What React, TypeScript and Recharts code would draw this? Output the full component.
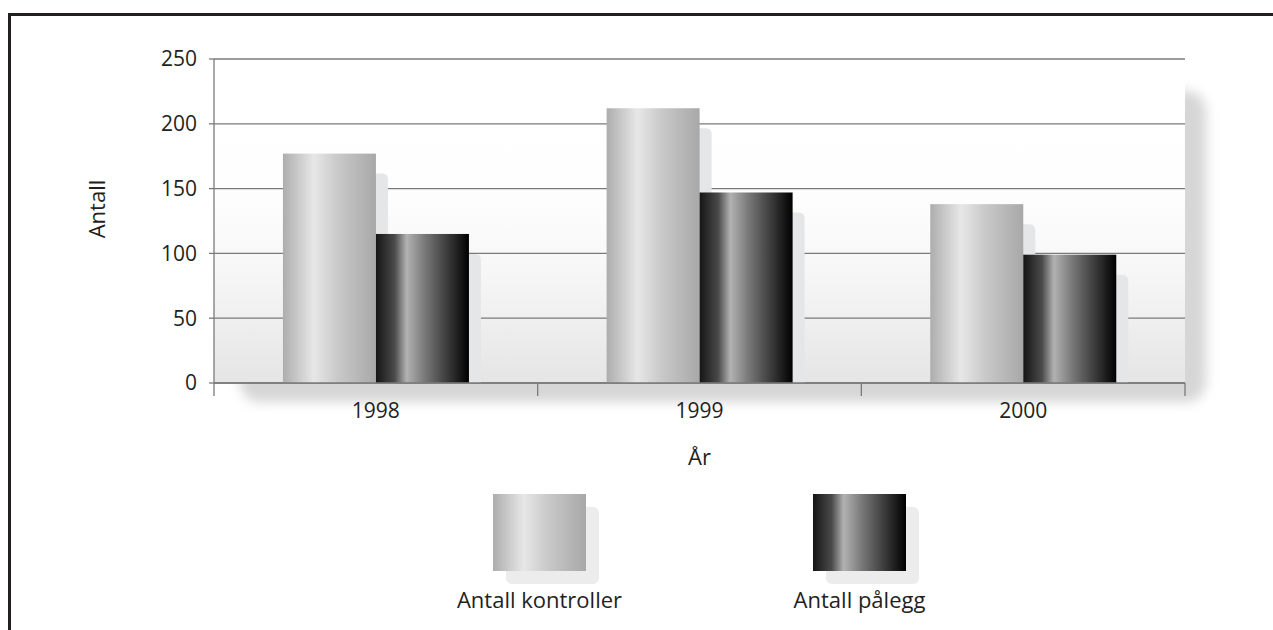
import React from 'react';
import { BarChart, Bar, XAxis, YAxis, CartesianGrid } from 'recharts';

const categories = ['1998', '1999', '2000'];
const kontroller = [177, 212, 138];
const palegg = [115, 147, 99];
const yTicks = [0, 50, 100, 150, 200, 250];
const seriesNames = ['Antall kontroller', 'Antall pålegg'];
const xTitle = 'År';
const yTitle = 'Antall';

const data = categories.map((c, i) => ({ year: c, kontroller: kontroller[i], palegg: palegg[i] }));

const FONT = "'Open Sans', 'Noto Sans', sans-serif";
const TEXT = '#231f20';
const LINE = '#7a7a7a';
const TICK_FS = 21;
const LABEL_FS = 22;

const lightStops: [number, string][] = [
  [0, '#adadad'], [0.33, '#e7e7e7'], [0.6, '#c8c8c8'], [1, '#a8a8a8'],
];
const darkStops: [number, string][] = [
  [0, '#151515'], [0.2, '#4a4a4a'], [0.33, '#b2b2b2'], [0.52, '#7a7a7a'], [0.78, '#383838'], [1, '#000000'],
];
const cssGrad = (stops: [number, string][]) =>
  `linear-gradient(to right, ${stops.map(([o, c]) => `${c} ${o * 100}%`).join(', ')})`;

const ShadowBar = (props: any) => {
  const { x, y, width, height, fill } = props;
  const dx = 12, dy = 20, r = 6;
  const sx = x + dx, sy = y + dy, sh = height - dy;
  return (
    <g>
      {sh > 0 && (
        <path
          d={`M${sx},${sy + sh} L${sx},${sy} L${sx + width - r},${sy} Q${sx + width},${sy} ${sx + width},${sy + r} L${sx + width},${sy + sh} Z`}
          fill="#e5e6e8"
        />
      )}
      <rect x={x} y={y} width={width} height={height} fill={fill} />
    </g>
  );
};

const TICK_GAP = 20;
const XTick = (props: any) => {
  const { x, y, payload, index, visibleTicksCount } = props;
  const half = payload && payload.offset ? payload.offset : 0;
  const top = y - TICK_GAP;
  const lines = [x - half];
  if (index === visibleTicksCount - 1) lines.push(x + half);
  return (
    <g>
      {lines.map((lx, i) => (
        <line key={i} x1={lx} x2={lx} y1={top} y2={top + 13} stroke={LINE} strokeWidth={1.3} />
      ))}
      <text x={x} y={y} dy="0.71em" textAnchor="middle" fill={TEXT} fontSize={TICK_FS} fontFamily={FONT}>
        {payload.value}
      </text>
    </g>
  );
};

const LegendItem = ({ name, stops }: { name: string; stops: [number, string][] }) => (
  <div style={{ width: 320, position: 'relative', height: 120 }}>
    <div style={{ position: 'absolute', left: 113.5 + 13, top: 13, width: 93, height: 77, background: '#ececec', borderRadius: 6 }} />
    <div style={{ position: 'absolute', left: 113.5, top: 0, width: 93, height: 77, background: cssGrad(stops) }} />
    <div style={{ position: 'absolute', left: 0, width: 320, top: 92, textAlign: 'center', fontSize: LABEL_FS, lineHeight: '26px', color: TEXT, fontFamily: FONT }}>
      {name}
    </div>
  </div>
);

export default function App() {
  return (
    <div style={{ position: 'absolute', left: 0, top: 0, width: 1273, height: 630, background: '#fff', overflow: 'hidden', fontFamily: FONT }}>
      <div style={{ position: 'absolute', left: 8, top: 13, width: 1265, height: 617, borderTop: `3px solid ${TEXT}`, borderLeft: `3px solid ${TEXT}`, boxSizing: 'border-box' }} />
      <div style={{ position: 'absolute', left: 240, top: 91, width: 966, height: 311, background: '#d6d6d6', borderRadius: 20, filter: 'blur(6px)' }} />
      <div style={{ position: 'absolute', left: 0, top: 0 }}>
        <BarChart
          width={1273}
          height={630}
          data={data}
          margin={{ top: 59, right: 88, left: 0, bottom: 207 }}
          barCategoryGap="21.3%"
          barGap={0}
        >
          <defs>
            <linearGradient id="plotBg" x1="0" y1="0" x2="0" y2="1">
              <stop offset="0" stopColor="#ffffff" />
              <stop offset="0.4" stopColor="#fefefe" />
              <stop offset="0.65" stopColor="#f7f7f7" />
              <stop offset="1" stopColor="#e5e5e5" />
            </linearGradient>
            <linearGradient id="gLight" x1="0" y1="0" x2="1" y2="0">
              {lightStops.map(([o, c]) => <stop key={o} offset={o} stopColor={c} />)}
            </linearGradient>
            <linearGradient id="gDark" x1="0" y1="0" x2="1" y2="0">
              {darkStops.map(([o, c]) => <stop key={o} offset={o} stopColor={c} />)}
            </linearGradient>
          </defs>
          <CartesianGrid vertical={false} stroke={LINE} strokeWidth={1.3} fill="url(#plotBg)" fillOpacity={1} />
          <XAxis
            dataKey="year"
            height={40}
            tickLine={false}
            axisLine={{ stroke: LINE, strokeWidth: 1.5 }}
            tickSize={0}
            tickMargin={TICK_GAP}
            tick={XTick}
            interval={0}
            label={{
              content: (p: any) => {
                const vb = p.viewBox;
                return (
                  <text x={vb.x + vb.width / 2} y={vb.y + 82} textAnchor="middle" fill={TEXT} fontSize={LABEL_FS} fontFamily={FONT}>
                    {xTitle}
                  </text>
                );
              },
            }}
          />
          <YAxis
            width={214}
            domain={[0, 250]}
            ticks={yTicks}
            tickSize={5}
            tickMargin={12}
            axisLine={{ stroke: LINE, strokeWidth: 1.3 }}
            tickLine={{ stroke: LINE, strokeWidth: 1.3 }}
            tick={{ fill: TEXT, fontSize: TICK_FS, fontFamily: FONT }}
            label={{
              content: (p: any) => {
                const vb = p.viewBox;
                const cx = vb.x + 96;
                const cy = vb.y + vb.height / 2 - 12;
                return (
                  <text x={cx} y={cy} transform={`rotate(-90 ${cx} ${cy})`} textAnchor="middle" dominantBaseline="central" fill={TEXT} fontSize={LABEL_FS} fontFamily={FONT}>
                    {yTitle}
                  </text>
                );
              },
            }}
          />
          <YAxis
            yAxisId="right"
            orientation="right"
            width={0}
            tick={false}
            tickLine={false}
            axisLine={{ stroke: LINE, strokeWidth: 1.3 }}
          />
          <Bar dataKey="kontroller" name={seriesNames[0]} fill="url(#gLight)" shape={ShadowBar} isAnimationActive={false} />
          <Bar dataKey="palegg" name={seriesNames[1]} fill="url(#gDark)" shape={ShadowBar} isAnimationActive={false} />
        </BarChart>
      </div>
      <div style={{ position: 'absolute', left: 379.5, top: 494, display: 'flex' }}>
        <LegendItem name={seriesNames[0]} stops={lightStops} />
        <LegendItem name={seriesNames[1]} stops={darkStops} />
      </div>
    </div>
  );
}
